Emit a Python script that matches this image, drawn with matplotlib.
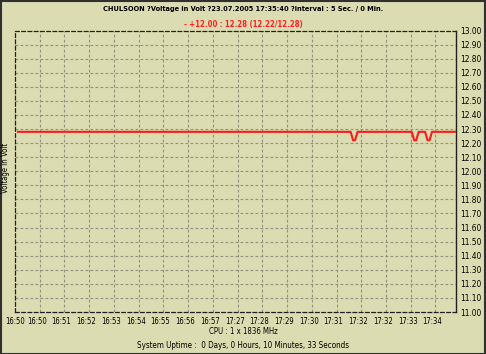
import matplotlib
matplotlib.use("Agg")
import matplotlib.pyplot as plt
from matplotlib.patches import Rectangle

plt.rcParams['font.family'] = ['DejaVu Sans']
plt.rcParams['font.stretch'] = 'condensed'

# x in "tick slot" units: gridlines sit on 1..17
time_labels = ["16:50", "16:50", "16:51", "16:52", "16:53", "16:54", "16:55", "16:56",
               "16:57", "17:27", "17:28", "17:29", "17:30", "17:31", "17:32", "17:32",
               "17:33", "17:34"]
volt_x = [0.12, 13.57, 13.67, 13.75, 13.85, 16.04, 16.14, 16.22, 16.32,
          16.58, 16.68, 16.76, 16.86, 17.83]
volt_y = [12.28, 12.28, 12.22, 12.22, 12.28, 12.28, 12.22, 12.22, 12.28,
          12.28, 12.22, 12.22, 12.28, 12.28]
y_ticks = [11.0 + 0.1 * i for i in range(21)]

bg = "#dcdcb2"
W, H = 486, 354
fig = plt.figure(figsize=(W / 100, H / 100), dpi=100, facecolor=bg)
ax = fig.add_axes([15 / W, (H - 312) / H, (456 - 15) / W, (312 - 30.5) / H])
ax.set_facecolor(bg)

ax.set_xlim(0.12, 17.83)
ax.set_ylim(11.0, 13.0)

# grid
for yv in y_ticks[1:-1]:
    ax.axhline(yv, color="#929282", lw=0.8, ls=(0, (2.5, 2)), zorder=1)
for xv in range(1, 18):
    ax.axvline(xv, color="#929282", lw=0.8, ls=(0, (2.5, 2)), zorder=1)

ax.plot(volt_x, volt_y, color="#ff1a1a", lw=1.5, zorder=3)

# frame
for side in ["left", "top", "bottom"]:
    ax.spines[side].set_linestyle((0, (3, 2)))
    ax.spines[side].set_color("#202020")
    ax.spines[side].set_linewidth(0.9)
ax.spines["right"].set_color("#202020")
ax.spines["right"].set_linewidth(1.0)

ax.yaxis.tick_right()
ax.set_yticks(y_ticks)
ax.set_yticklabels(["%.2f" % v for v in y_ticks], fontsize=6.0)
ax.tick_params(axis="y", length=0, pad=3)

ax.set_xticks([i - 0.12 if i > 0 else 0.0 for i in range(len(time_labels))])
ax.set_xticklabels(time_labels, fontsize=5.5)
ax.tick_params(axis="x", length=0, pad=3.5)

fig.text(6 / W, 1 - 168 / H, "Voltage in Volt", rotation=90, fontsize=5.6,
         ha="center", va="center")
fig.text(243 / W, 1 - 9 / H,
         "CHULSOON ?Voltage in Volt ?23.07.2005 17:35:40 ?interval : 5 Sec. / 0 Min.",
         fontsize=5.35, fontweight="bold", ha="center", va="center")
fig.text(243 / W, 1 - 24 / H, "- +12.00 : 12.28 (12.22/12.28)", fontsize=5.6,
         fontweight="bold", color="#ff2020", ha="center", va="center")
fig.text(243 / W, 1 - 332 / H, "CPU : 1 x 1836 MHz", fontsize=5.6,
         ha="center", va="center")
fig.text(243 / W, 1 - 345 / H,
         "System Uptime :  0 Days, 0 Hours, 10 Minutes, 33 Seconds", fontsize=5.8,
         ha="center", va="center")

fig.patches.append(Rectangle((0.5 / W, 0.5 / H), 1 - 1.5 / W, 1 - 1.5 / H,
                             transform=fig.transFigure, fill=False,
                             edgecolor="#303030", lw=1.5))

fig.savefig("out.png", dpi=100, facecolor=bg)
